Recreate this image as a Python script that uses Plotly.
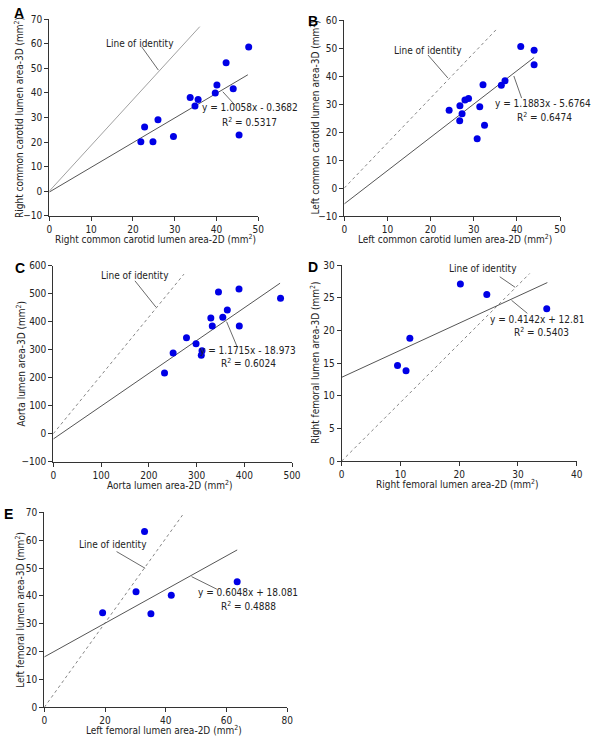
import plotly.graph_objects as go

# ---------------- data ----------------
a_x = [21.9, 22.8, 24.8, 26.0, 29.7, 33.7, 34.85, 35.6, 39.7, 40.1, 42.3, 44.0, 45.4, 47.7]
a_y = [20.1, 26.1, 20.1, 29.1, 22.3, 38.1, 34.7, 37.3, 40.0, 43.2, 52.3, 41.75, 22.9, 58.7]

b_x = [24.3, 26.8, 27.3, 26.75, 27.97, 28.8, 31.4, 30.8, 32.5, 32.15, 36.4, 37.25, 40.9, 44.0, 44.0]
b_y = [27.75, 29.4, 26.5, 24.0, 31.4, 32.0, 29.0, 17.6, 22.4, 36.9, 36.7, 38.3, 50.5, 49.2, 44.05]

c_x = [233, 251, 279, 299, 310, 311.5, 330, 333, 346, 355, 364.5, 389, 389.6, 476]
c_y = [217, 288, 343, 321, 280, 296, 413, 385, 506, 416, 442, 517, 385, 484]

d_x = [9.5, 10.95, 11.6, 20.2, 24.7, 34.9]
d_y = [14.6, 13.8, 18.8, 27.1, 25.5, 23.3]

e_x = [19.2, 30.2, 33.0, 35.1, 41.8, 63.5]
e_y = [33.9, 41.5, 63.1, 33.6, 40.2, 45.1]

# regression equations (as printed) and x-extent of fitted lines
slopes = [1.0058, 1.1883, 1.1715, 0.4142, 0.6048]
intercepts = [-0.3682, -5.6764, -18.973, 12.81, 18.081]
fit_x_end = [47.5, 44.0, 475, 35.0, 63.5]
eq_texts = ["y = 1.0058x - 0.3682", "y = 1.1883x - 5.6764", "y = 1.1715x - 18.973",
            "y = 0.4142x + 12.81", "y = 0.6048x + 18.081"]
r2_texts = ["R<sup>2</sup> = 0.5317", "R<sup>2</sup> = 0.6474", "R<sup>2</sup> = 0.6024",
            "R<sup>2</sup> = 0.5403", "R<sup>2</sup> = 0.4888"]

# reference ("line of identity") lines as drawn in the figure
ident_x = [[0, 36.0], [0, 35.3], [0, 273.7], [0, 32.0], [0, 45.5]]
ident_y = [[0, 67.0], [0, 56.7], [0, 570.0], [0, 28.7], [0, 69.0]]

panel_letters = ["A", "B", "C", "D", "E"]
x_titles = ["Right common carotid lumen area-2D (mm<sup>2</sup>)",
            "Left common carotid lumen area-2D (mm<sup>2</sup>)",
            "Aorta lumen area-2D (mm<sup>2</sup>)",
            "Right femoral lumen area-2D (mm<sup>2</sup>)",
            "Left femoral lumen area-2D (mm<sup>2</sup>)"]
y_titles = ["Right common carotid lumen area-3D (mm<sup>2</sup>)",
            "Left common carotid lumen area-3D (mm<sup>2</sup>)",
            "Aorta lumen area-3D (mm<sup>2</sup>)",
            "Right femoral lumen area-3D (mm<sup>2</sup>)",
            "Left femoral lumen area-3D (mm<sup>2</sup>)"]
x_ranges = [[0, 50], [0, 50], [0, 500], [0, 40], [0, 80]]
y_ranges = [[-10, 70], [-10, 60], [-100, 600], [0, 30], [0, 70]]
x_dticks = [10, 10, 100, 10, 20]
y_dticks = [10, 10, 100, 5, 10]

# annotation anchor positions (data units of each panel)
ident_label = [(21.7, 60.3), (19.3, 49.0), (171, 564), (24.1, 29.5), (22.5, 58.3)]
ident_lead = [((22.1, 58.8), (26.1, 49.3)), ((19.4, 47.5), (24.0, 39.3)),
              ((171, 546), (215, 452)), ((26.9, 28.2), (29.5, 26.6)),
              ((23.8, 55.9), (33.2, 49.9))]
eq_label = [(48.0, 33.9), (46.0, 30.25), (408.5, 296.4), (33.2, 21.6), (67.2, 41.1)]
r2_label = [(47.8, 28.2), (46.3, 25.5), (408.5, 251.4), (34.0, 19.8), (67.2, 36.4)]
eq_lead = [((41.5, 40.5), (44.4, 35.1)), ((39.3, 40.0), (41.1, 32.1)),
           ((363, 400), (385, 310.7)), ((28.9, 24.6), (31.6, 22.6)),
           ((48.5, 46.9), (56.8, 42.4))]

xs = [a_x, b_x, c_x, d_x, e_x]
ys = [a_y, b_y, c_y, d_y, e_y]

# ---------------- layout geometry (pixels) ----------------
W, H = 600, 747
px_boxes = [(49.3, 258.3, 19.3, 215.7),
            (344.3, 560.0, 20.0, 216.0),
            (53.3, 292.0, 265.7, 461.7),
            (341.7, 576.7, 265.0, 461.0),
            (44.3, 287.3, 512.3, 707.3)]
letter_pos = [(19, 13), (313, 21), (20, 268), (313, 267), (8, 514)]
xtitle_pos = [(155, 239), (455, 239), (170, 485), (457, 484), (164, 730)]
ytitle_x = [19.5, 314.5, 20.7, 315, 20]

FONT = "DejaVu Sans Condensed"
fig = go.Figure()
layout = dict(width=W, height=H, margin=dict(l=0, r=0, t=0, b=0),
              paper_bgcolor="white", plot_bgcolor="white", showlegend=False,
              font=dict(family=FONT, size=10, color="#222"))
annotations = []
shapes = []


def pfx(px):
    return px / W


def pfy(py):
    return 1 - py / H


for i in range(5):
    n = "" if i == 0 else str(i + 1)
    xa, ya = "x" + n, "y" + n
    x0, x1, y0, y1 = px_boxes[i]
    common = dict(showgrid=False, zeroline=False, showline=True, linecolor="#333",
                  linewidth=1, ticks="outside", ticklen=4, tickcolor="#333",
                  tickfont=dict(family=FONT, size=10, color="#222"), automargin=False)
    layout["xaxis" + n] = dict(common, domain=[pfx(x0), pfx(x1)], anchor=ya,
                               range=x_ranges[i], dtick=x_dticks[i], tick0=0)
    layout["yaxis" + n] = dict(common, domain=[pfy(y1), pfy(y0)], anchor=xa,
                               range=y_ranges[i], dtick=y_dticks[i], tick0=0)

    # identity line
    fig.add_trace(go.Scatter(x=ident_x[i], y=ident_y[i], mode="lines", xaxis=xa, yaxis=ya,
                             line=dict(color="#888" if i == 0 else "#666", width=0.8,
                                       dash="solid" if i == 0 else "dot"),
                             hoverinfo="skip"))
    # regression line
    fx = [0, fit_x_end[i]]
    fy = [slopes[i] * v + intercepts[i] for v in fx]
    fig.add_trace(go.Scatter(x=fx, y=fy, mode="lines", xaxis=xa, yaxis=ya,
                             line=dict(color="#555", width=1), hoverinfo="skip"))
    # points
    fig.add_trace(go.Scatter(x=xs[i], y=ys[i], mode="markers", xaxis=xa, yaxis=ya,
                             marker=dict(color="#0000e6", size=7), cliponaxis=False))

    tf = dict(family=FONT, size=10, color="#222")
    # axis titles
    annotations.append(dict(x=pfx(xtitle_pos[i][0]), y=pfy(xtitle_pos[i][1]),
                            xref="paper", yref="paper", xanchor="center", yanchor="middle",
                            text=x_titles[i], showarrow=False, font=tf))
    annotations.append(dict(x=pfx(ytitle_x[i]), y=pfy((y0 + y1) / 2),
                            xref="paper", yref="paper", xanchor="center", yanchor="middle",
                            textangle=-90, text=y_titles[i], showarrow=False, font=tf))
    # labels
    annotations.append(dict(x=ident_label[i][0], y=ident_label[i][1], xref=xa, yref=ya,
                            text="Line of identity", showarrow=False, font=tf))
    annotations.append(dict(x=eq_label[i][0], y=eq_label[i][1], xref=xa, yref=ya,
                            text=eq_texts[i], showarrow=False, font=tf))
    annotations.append(dict(x=r2_label[i][0], y=r2_label[i][1], xref=xa, yref=ya,
                            text=r2_texts[i], showarrow=False, font=tf))
    for (p, q) in (ident_lead[i], eq_lead[i]):
        shapes.append(dict(type="line", xref=xa, yref=ya, x0=p[0], y0=p[1], x1=q[0], y1=q[1],
                           line=dict(color="#444", width=0.8)))
    lx, ly = letter_pos[i]
    annotations.append(dict(x=pfx(lx), y=pfy(ly), xref="paper", yref="paper",
                            xanchor="center", yanchor="middle",
                            text="<b>" + panel_letters[i] + "</b>", showarrow=False,
                            font=dict(family="Liberation Sans", size=14, color="#000")))

layout["annotations"] = annotations
layout["shapes"] = shapes
fig.update_layout(**layout)
fig.write_html("out.html", config={"displayModeBar": False},
               post_script="document.body.style.margin='0';document.body.style.overflow='hidden';")
